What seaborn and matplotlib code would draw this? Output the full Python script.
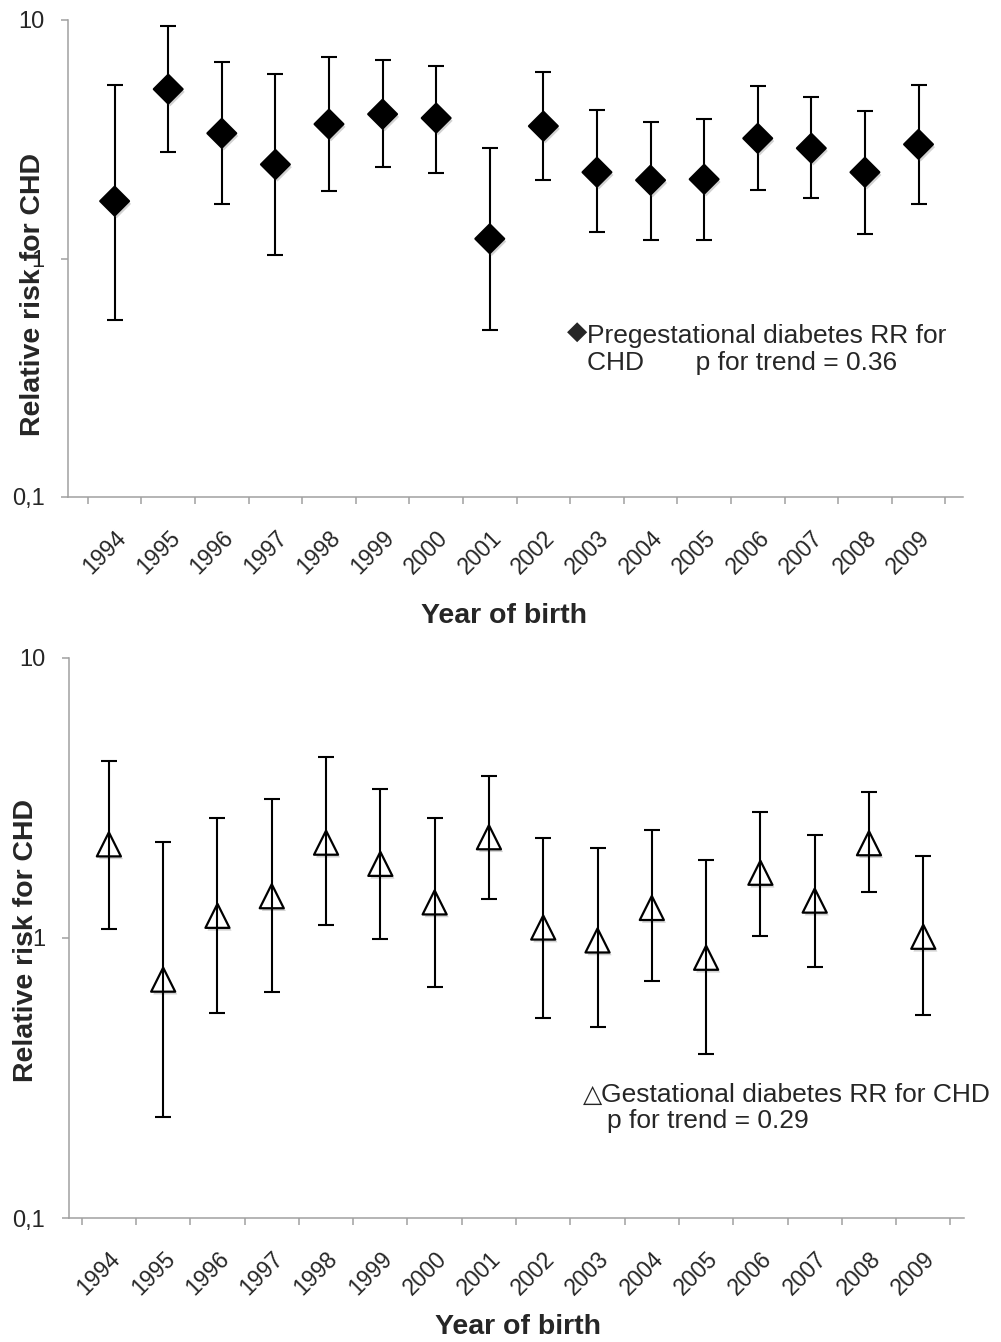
import numpy as np
import pandas as pd
import matplotlib
matplotlib.use("Agg")
import matplotlib.pyplot as plt
import matplotlib.patheffects as pe
from matplotlib.ticker import NullLocator
import seaborn as sns

# Data (relative risk for CHD with 95% CI)
years = [1994, 1995, 1996, 1997, 1998, 1999, 2000, 2001,
         2002, 2003, 2004, 2005, 2006, 2007, 2008, 2009]

pregest_rr = [1.74, 5.13, 3.35, 2.48, 3.66, 4.03, 3.88, 1.21,
              3.59, 2.30, 2.13, 2.15, 3.19, 2.90, 2.30, 3.01]
pregest_lo = [0.55, 2.79, 1.69, 1.03, 1.91, 2.41, 2.28, 0.50,
              2.13, 1.29, 1.20, 1.19, 1.93, 1.79, 1.27, 1.70]
pregest_hi = [5.33, 9.44, 6.66, 5.93, 6.99, 6.79, 6.41, 2.90,
              6.05, 4.19, 3.73, 3.84, 5.28, 4.75, 4.15, 5.33]

gest_rr = [2.16, 0.71, 1.20, 1.41, 2.19, 1.84, 1.34, 2.29,
           1.09, 0.98, 1.28, 0.85, 1.71, 1.36, 2.18, 1.01]
gest_lo = [1.08, 0.23, 0.54, 0.64, 1.11, 0.995, 0.67, 1.38,
           0.52, 0.48, 0.70, 0.385, 1.02, 0.79, 1.46, 0.53]
gest_hi = [4.30, 2.20, 2.68, 3.14, 4.42, 3.40, 2.68, 3.79,
           2.28, 2.10, 2.43, 1.90, 2.82, 2.33, 3.32, 1.96]

y_ticks = [0.1, 1, 10]
y_ticklabels = ["0,1", "1", "10"]

sns.set_style("white")
plt.rcParams["font.family"] = ["Liberation Sans", "DejaVu Sans"]

AXIS_GRAY = "#a0a0a0"


def draw_panel(ax, rr, lo, hi, marker, face, msize, xlim, zbars):
    df = pd.DataFrame({"year": years, "rr": rr, "lo": lo, "hi": hi})
    df["pos"] = np.arange(len(df))

    ax.errorbar(df["pos"], df["rr"],
                yerr=[df["rr"] - df["lo"], df["hi"] - df["rr"]],
                fmt="none", ecolor="black", elinewidth=1.5,
                capsize=5.5, capthick=1.5, zorder=zbars)
    sns.scatterplot(data=df, x="pos", y="rr", marker=marker, s=msize,
                    color=face, edgecolor="black", linewidth=1.6,
                    zorder=3, ax=ax, legend=False)
    # soft drop shadow under the markers, like the original
    for coll in ax.collections:
        if coll.get_offsets().shape[0] == len(df) and not hasattr(coll, "get_segments"):
            coll.set_path_effects([pe.SimplePatchShadow(offset=(1.5, -2), shadow_rgbFace="0.5", alpha=0.35),
                                   pe.Normal()])

    ax.set_yscale("log")
    ax.set_ylim(0.1, 10)
    ax.set_yticks(y_ticks)
    ax.set_yticklabels(y_ticklabels)
    ax.yaxis.set_minor_locator(NullLocator())
    ax.tick_params(axis="y", which="major", length=5, width=1.1,
                   color=AXIS_GRAY, pad=12, labelsize=17, left=True)

    ax.set_xlim(*xlim)
    ax.set_xticks(df["pos"])
    ax.set_xticklabels([str(y) for y in df["year"]])
    ax.set_xticks(np.arange(len(df) + 1) - 0.5, minor=True)
    ax.tick_params(axis="x", which="major", length=0, pad=21, labelsize=16.5)
    ax.tick_params(axis="x", which="minor", length=5, width=1.1,
                   color=AXIS_GRAY, bottom=True)
    plt.setp(ax.get_xticklabels(), rotation=45, ha="right",
             rotation_mode="anchor")

    for side in ["top", "right"]:
        ax.spines[side].set_visible(False)
    for side in ["left", "bottom"]:
        ax.spines[side].set_color(AXIS_GRAY)
        ax.spines[side].set_linewidth(1.1)

    ax.set_xlabel("Year of birth", fontsize=20.5, fontweight="bold")
    ax.set_ylabel("Relative risk for CHD", fontsize=20.5, fontweight="bold")
    ax.grid(False)


fig = plt.figure(figsize=(10.01, 13.42), dpi=100)
W, H = 1001, 1342

# Upper panel: pregestational diabetes
ax1 = fig.add_axes([68 / W, 1 - 497 / H, 895 / W, 477 / H])
draw_panel(ax1, pregest_rr, pregest_lo, pregest_hi, "D", "black", 215,
           (-0.87, 15.83), 2)
ax1.xaxis.set_label_coords(0.487, -0.222)
ax1.yaxis.set_label_coords(-0.025, 0.4235)
ax1.text(0.569, 0.347, "\u25C6", transform=ax1.transAxes, ha="center",
         va="center", fontsize=19, family=["DejaVu Sans"])
ax1.text(0.580, 0.323, "Pregestational diabetes RR for",
         transform=ax1.transAxes, fontsize=19, va="baseline")
ax1.text(0.580, 0.266, "CHD       p for trend = 0.36",
         transform=ax1.transAxes, fontsize=19, va="baseline")

# Lower panel: gestational diabetes
ax2 = fig.add_axes([68.7 / W, 1 - 1218 / H, 895.3 / W, 560 / H])
draw_panel(ax2, gest_rr, gest_lo, gest_hi, "^", "white", 300,
           (-0.74, 15.75), 4)
ax2.xaxis.set_label_coords(0.502, -0.172)
ax2.yaxis.set_label_coords(-0.033, 0.496)
ax2.text(0.585, 0.219, "\u25B3", transform=ax2.transAxes, ha="center",
         va="center", fontsize=18, family=["DejaVu Sans"])
ax2.text(0.595, 0.2077, "Gestational diabetes RR for CHD",
         transform=ax2.transAxes, fontsize=19, va="baseline")
ax2.text(0.601, 0.161, "p for trend = 0.29",
         transform=ax2.transAxes, fontsize=19, va="baseline")

fig.savefig("out.png", dpi=100)
